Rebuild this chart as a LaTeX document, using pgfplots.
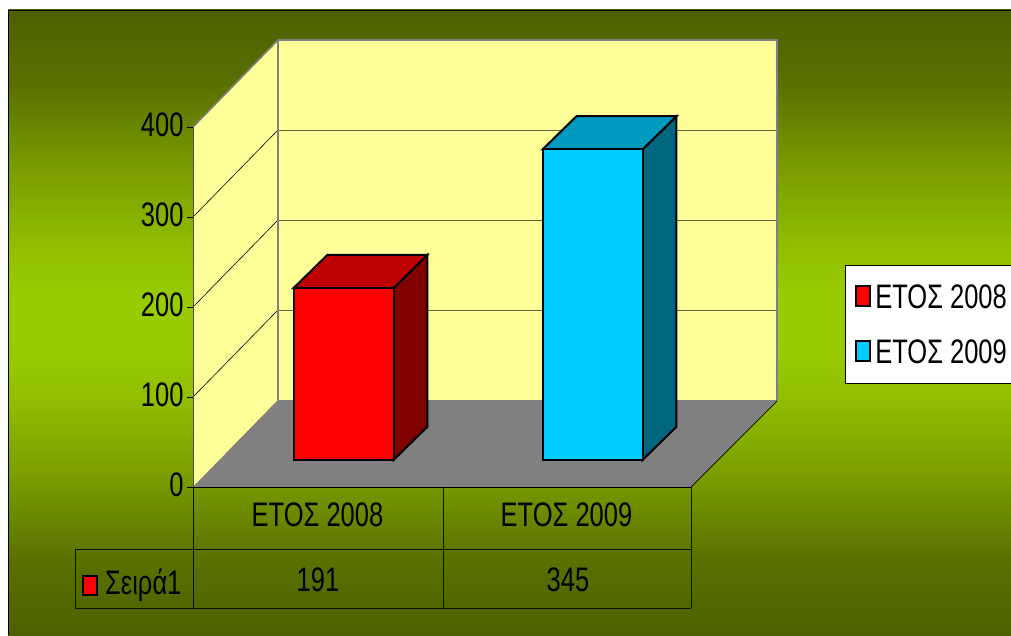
\documentclass[border=0pt]{standalone}
\usepackage{fontspec}
\setmainfont[FakeStretch=0.75]{Liberation Sans}
\usepackage{pgfplots}
\pgfplotsset{compat=1.18}
\definecolor{bgdark}{HTML}{4D6000}
\definecolor{bgtwo}{HTML}{5A7000}
\definecolor{bgthree}{HTML}{789C00}
\definecolor{bgfour}{HTML}{91BE00}
\definecolor{bgfive}{HTML}{98CA00}
\definecolor{bgbright}{HTML}{99CC00}
\definecolor{wall}{HTML}{FFFF99}
\definecolor{cyanbar}{HTML}{00CCFF}
\definecolor{cyantop}{HTML}{0099BF}
\definecolor{cyanside}{HTML}{006680}
\definecolor{redtop}{HTML}{BF0000}
\definecolor{redside}{HTML}{800000}
\pgfdeclareverticalshading{bgshade}{100bp}{
  color(0bp)=(bgdark); color(25bp)=(bgdark); color(31bp)=(bgtwo); color(37.5bp)=(bgthree); color(44bp)=(bgfour);
  color(47.5bp)=(bgfive); color(50bp)=(bgbright); color(52.5bp)=(bgfive); color(56bp)=(bgfour);
  color(62.5bp)=(bgthree); color(69bp)=(bgtwo); color(75bp)=(bgdark); color(100bp)=(bgdark)}
\newcommand{\chartfont}{\fontsize{34}{36}\selectfont}
\begin{document}
\begin{tikzpicture}[line join=miter]
\path[use as bounding box] (0pt,0pt) rectangle (1011pt,635pt);
\begin{scope}[x=1pt,y=-1pt,yshift=635pt]
  \fill[white] (0,0) rectangle (1011,635);
  \shade[shading=bgshade] (8,10) rectangle (1011,635);
  \draw[black,line width=1pt] (8.5,635) -- (8.5,10.5) -- (1011,10.5);
  % walls and floor
  \fill[wall] (278,40) rectangle (777,400);
  \fill[wall] (193,127) -- (278,40) -- (278,400) -- (193,487) -- cycle;
  \fill[gray] (193,487) -- (278,400) -- (777,400) -- (691,487) -- cycle;
  \draw[black!60!wall,line width=0.9pt] (278,130) -- (777,130) (278,220) -- (777,220) (278,310) -- (777,310);
  \draw[black,line width=0.6pt] (193,217) -- (278,130) (193,307) -- (278,220) (193,397) -- (278,310);
  \draw[black!50,line width=1.6pt] (193,127) -- (278,40) -- (777,40) -- (777,401) (278,40) -- (278,400);
  \draw[black!50,line width=1pt] (278,400) -- (777,400);
  \draw[black,line width=0.7pt] (691,487) -- (777,401);
\end{scope}
\begin{axis}[
  at={(193pt,148pt)}, anchor=south west,
  scale only axis, width=498pt, height=360pt,
  xmin=-0.5, xmax=1.5, ymin=0, ymax=400,
  clip=false,
  axis x line*=bottom, axis y line*=left,
  axis line style={-},
  x axis line style={black,line width=1pt},
  y axis line style={black!70,line width=1pt},
  xtick={0,1}, xticklabels={ΕΤΟΣ 2008,ΕΤΟΣ 2009},
  ytick={0,100,200,300,400},
  x tick style={draw=none},
  y tick style={black,line width=0.8pt},
  tick align=outside, major tick length=6pt,
  /pgf/number format/assume math mode=true,
  tick label style={font=\chartfont},
  xticklabel style={yshift=-6pt},
  yticklabel style={yshift=2pt},
  legend style={at={(1.3092,0.6167)}, anchor=north west, draw=black, line width=1pt, fill=white,
    font=\chartfont, inner xsep=10pt, inner ysep=17pt,
    row sep=26pt, nodes={inner xsep=4pt, inner ysep=2pt}},
  legend cell align=left,
]
% red bar (2008): side, top, front
\addplot[forget plot, fill=redside, draw=black, line width=2pt, xshift=26pt, yshift=27pt]
  coordinates {(0.2008,0) (0.3373,37) (0.3373,228) (0.2008,191)} --cycle;
\addplot[forget plot, fill=redtop, draw=black, line width=2pt, xshift=26pt, yshift=27pt]
  coordinates {(-0.2008,191) (0.2008,191) (0.3373,228) (-0.0643,228)} --cycle;
\addplot[ybar, bar width=100pt, bar shift=0pt, fill=red, draw=black, line width=2pt, xshift=26pt, yshift=27pt,
  legend image code/.code={\draw[xshift=-26pt,yshift=-27pt,fill=red,draw=black,line width=1.8pt] (0pt,-9pt) rectangle (14pt,11pt);}]
  coordinates {(0,191)};
\addlegendentry{ΕΤΟΣ 2008}
% cyan bar (2009): side, top, front
\addplot[forget plot, fill=cyanside, draw=black, line width=2pt, xshift=26pt, yshift=27pt]
  coordinates {(1.2008,0) (1.3373,37) (1.3373,382) (1.2008,345)} --cycle;
\addplot[forget plot, fill=cyantop, draw=black, line width=2pt, xshift=26pt, yshift=27pt]
  coordinates {(0.7992,345) (1.2008,345) (1.3373,382) (0.9357,382)} --cycle;
\addplot[ybar, bar width=100pt, bar shift=0pt, fill=cyanbar, draw=black, line width=2pt, xshift=26pt, yshift=27pt,
  legend image code/.code={\draw[xshift=-26pt,yshift=-27pt,fill=cyanbar,draw=black,line width=1.8pt] (0pt,-9pt) rectangle (14pt,11pt);}]
  coordinates {(1,345)};
\addlegendentry{ΕΤΟΣ 2009}
\end{axis}
\begin{scope}[x=1pt,y=-1pt,yshift=635pt]
  \draw[black!85!bgdark,line width=0.8pt] (193,487) -- (193,608) (443,487) -- (443,608) (691,487) -- (691,608)
     (75,549) -- (691,549) (75,608) -- (691,608) (75,549) -- (75,608);
  \fill[red] (83,576) rectangle (97,595);
  \draw[black,line width=1.8pt] (83,576) rectangle (97,595);
  \node[anchor=west,inner sep=0pt,font=\chartfont] at (105,585) {Σειρά1};
  \node[inner sep=0pt,font=\chartfont] at (318,580) {191};
  \node[inner sep=0pt,font=\chartfont] at (568,580) {345};
\end{scope}
\end{tikzpicture}
\end{document}
